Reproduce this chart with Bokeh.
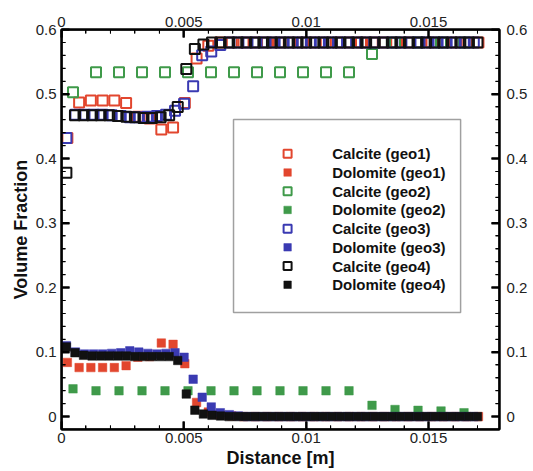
from bokeh.plotting import figure
from bokeh.models import LinearAxis, Range1d, FixedTicker
from bokeh.embed import file_html
from bokeh.resources import INLINE

# ---------------- data ----------------
# geo1 cells
x_geo1 = [0.00024, 0.00072, 0.0012, 0.00168, 0.00216, 0.00264, 0.00312, 0.0036,
          0.00408, 0.00456, 0.00504, 0.00552, 0.006, 0.00648, 0.00696, 0.00744,
          0.00792, 0.0084, 0.00888, 0.00936, 0.00984, 0.01032, 0.0108, 0.01128,
          0.01176, 0.01224, 0.01272, 0.0132, 0.01368, 0.01416, 0.01464, 0.01512,
          0.0156, 0.01608, 0.01656, 0.01704]
calcite_geo1 = [0.432, 0.487, 0.49, 0.49, 0.49, 0.486, 0.465, 0.462, 0.445, 0.448,
                0.486, 0.555, 0.575, 0.58, 0.58, 0.58, 0.58, 0.58, 0.58, 0.58,
                0.58, 0.58, 0.58, 0.58, 0.58, 0.58, 0.58, 0.58, 0.58, 0.58,
                0.58, 0.58, 0.58, 0.58, 0.58, 0.58]
dolomite_geo1 = [0.084, 0.076, 0.076, 0.076, 0.076, 0.079, 0.092, 0.093, 0.114, 0.112,
                 0.082, 0.022, 0.007, 0.003, 0.001, 0.0, 0.0, 0.0, 0.0, 0.0,
                 0.0, 0.0, 0.0, 0.0, 0.0, 0.0, 0.0, 0.0, 0.0, 0.0,
                 0.0, 0.0, 0.0, 0.0, 0.0, 0.0]

# geo2 cells
x_geo2 = [0.00047, 0.00141, 0.00235, 0.00329, 0.00423, 0.00517, 0.00611, 0.00705,
          0.00799, 0.00893, 0.00987, 0.01081, 0.01175, 0.01269, 0.01363, 0.01457,
          0.01551, 0.01645]
calcite_geo2 = [0.503, 0.534, 0.534, 0.534, 0.534, 0.534, 0.534, 0.534, 0.534,
                0.534, 0.534, 0.534, 0.534, 0.562, 0.58, 0.58, 0.58, 0.58]
dolomite_geo2 = [0.043, 0.04, 0.04, 0.04, 0.04, 0.04, 0.04, 0.04, 0.04,
                 0.04, 0.04, 0.04, 0.04, 0.0174, 0.011, 0.0097, 0.0087, 0.006]

# geo3 cells
x_geo3 = [0.0002, 0.00057, 0.00094, 0.00131, 0.00168, 0.00205, 0.00242, 0.00279,
          0.00316, 0.00353, 0.0039, 0.00427, 0.00464, 0.00501, 0.00538, 0.00575,
          0.00612, 0.00649, 0.00686, 0.00723, 0.0076, 0.00797, 0.00834, 0.00871,
          0.00908, 0.00945, 0.00982, 0.01019, 0.01056, 0.01093, 0.0113, 0.01167,
          0.01204, 0.01241, 0.01278, 0.01315, 0.01352, 0.01389, 0.01426, 0.01463,
          0.015, 0.01537, 0.01574, 0.01611, 0.01648, 0.01685]
calcite_geo3 = [0.432, 0.468, 0.468, 0.468, 0.468, 0.467, 0.466, 0.464, 0.464, 0.465,
                0.466, 0.468, 0.474, 0.485, 0.512, 0.56, 0.566, 0.576, 0.58, 0.58,
                0.58, 0.58, 0.58, 0.58, 0.58, 0.58, 0.58, 0.58, 0.58, 0.58,
                0.58, 0.58, 0.58, 0.58, 0.58, 0.58, 0.58, 0.58, 0.58, 0.58,
                0.58, 0.58, 0.58, 0.58, 0.58, 0.58]
dolomite_geo3 = [0.11, 0.1, 0.097, 0.097, 0.097, 0.098, 0.099, 0.102, 0.1, 0.098,
                 0.097, 0.098, 0.099, 0.092, 0.058, 0.03, 0.015, 0.006, 0.003, 0.001,
                 0.0, 0.0, 0.0, 0.0, 0.0, 0.0, 0.0, 0.0, 0.0, 0.0,
                 0.0, 0.0, 0.0, 0.0, 0.0, 0.0, 0.0, 0.0, 0.0, 0.0,
                 0.0, 0.0, 0.0, 0.0, 0.0, 0.0]

# geo4 cells
x_geo4 = [0.0002, 0.00055, 0.0009, 0.00125, 0.0016, 0.00195, 0.0023, 0.00265,
          0.003, 0.00335, 0.0037, 0.00405, 0.0044, 0.00475, 0.0051, 0.00545,
          0.0058, 0.00615, 0.0065, 0.00685, 0.0072, 0.00755, 0.0079, 0.00825,
          0.0086, 0.00895, 0.0093, 0.00965, 0.01, 0.01035, 0.0107, 0.01105,
          0.0114, 0.01175, 0.0121, 0.01245, 0.0128, 0.01315, 0.0135, 0.01385,
          0.0142, 0.01455, 0.0149, 0.01525, 0.0156, 0.01595, 0.0163, 0.01665, 0.017]
calcite_geo4 = [0.378, 0.467, 0.467, 0.467, 0.467, 0.467, 0.466, 0.465, 0.464, 0.463,
                0.463, 0.464, 0.467, 0.48, 0.539, 0.57, 0.577, 0.58, 0.58, 0.58,
                0.58, 0.58, 0.58, 0.58, 0.58, 0.58, 0.58, 0.58, 0.58, 0.58,
                0.58, 0.58, 0.58, 0.58, 0.58, 0.58, 0.58, 0.58, 0.58, 0.58,
                0.58, 0.58, 0.58, 0.58, 0.58, 0.58, 0.58, 0.58, 0.58]
dolomite_geo4 = [0.108, 0.099, 0.095, 0.094, 0.094, 0.094, 0.094, 0.094, 0.093, 0.093,
                 0.093, 0.093, 0.093, 0.087, 0.035, 0.01, 0.004, 0.002, 0.001, 0.0,
                 0.0, 0.0, 0.0, 0.0, 0.0, 0.0, 0.0, 0.0, 0.0, 0.0,
                 0.0, 0.0, 0.0, 0.0, 0.0, 0.0, 0.0, 0.0, 0.0, 0.0,
                 0.0, 0.0, 0.0, 0.0, 0.0, 0.0, 0.0, 0.0, 0.0]

# tick positions / labels
x_major_ticks = [0.0, 0.005, 0.01, 0.015]
x_minor_ticks = [0.001, 0.002, 0.003, 0.004, 0.006, 0.007, 0.008, 0.009,
                 0.011, 0.012, 0.013, 0.014, 0.016, 0.017]
y_major_ticks = [0.0, 0.1, 0.2, 0.3, 0.4, 0.5, 0.6]
y_minor_ticks = [0.02, 0.04, 0.06, 0.08, 0.12, 0.14, 0.16, 0.18, 0.22, 0.24,
                 0.26, 0.28, 0.32, 0.34, 0.36, 0.38, 0.42, 0.44, 0.46, 0.48,
                 0.52, 0.54, 0.56, 0.58]
x_tick_labels = ["0", "0.005", "0.01", "0.015"]
y_tick_labels = ["0", "0.1", "0.2", "0.3", "0.4", "0.5", "0.6"]

series_names = ["Calcite (geo1)", "Dolomite (geo1)", "Calcite (geo2)", "Dolomite (geo2)",
                "Calcite (geo3)", "Dolomite (geo3)", "Calcite (geo4)", "Dolomite (geo4)"]
series_x = [x_geo1, x_geo1, x_geo2, x_geo2, x_geo3, x_geo3, x_geo4, x_geo4]
series_y = [calcite_geo1, dolomite_geo1, calcite_geo2, dolomite_geo2,
            calcite_geo3, dolomite_geo3, calcite_geo4, dolomite_geo4]
series_color = ["#e2462e", "#e2462e", "#3f9a4a", "#3f9a4a",
                "#3a3ab2", "#3a3ab2", "#111111", "#111111"]
series_filled = [False, True, False, True, False, True, False, True]

# ---------------- layout constants ----------------
X_MIN, X_MAX = 0.0, 0.0179
Y_MIN, Y_MAX = -0.02, 0.6001
FRAME_W, FRAME_H = 438, 400          # plot-area size in px
PX_X = (X_MAX - X_MIN) / FRAME_W     # data units per pixel
PX_Y = (Y_MAX - Y_MIN) / FRAME_H

# legend box (data units)
LEG_LEFT, LEG_RIGHT = 0.00703, 0.01631
LEG_BOTTOM, LEG_TOP = 0.1614, 0.4606
LEG_MARK_X, LEG_TEXT_X = 0.00924, 0.01106
LEG_ROW0, LEG_ROW_STEP = 0.4074, 0.0290

p = figure(width=533, height=471, output_backend="svg", toolbar_location=None,
           x_range=Range1d(X_MIN, X_MAX), y_range=Range1d(Y_MIN, Y_MAX),
           min_border_left=61, min_border_right=34,
           min_border_top=29, min_border_bottom=42)
p.outline_line_color = "black"
p.outline_line_width = 2
p.xgrid.grid_line_color = None
p.ygrid.grid_line_color = None

ax_below = p.below[0]
ax_left = p.left[0]
ax_above = LinearAxis()
ax_right = LinearAxis()
p.add_layout(ax_above, "above")
p.add_layout(ax_right, "right")

for ax in (ax_below, ax_above):
    ax.ticker = FixedTicker(ticks=x_major_ticks, minor_ticks=x_minor_ticks)
    ax.major_label_overrides = dict(zip(x_major_ticks, x_tick_labels))
for ax in (ax_left, ax_right):
    ax.ticker = FixedTicker(ticks=y_major_ticks, minor_ticks=y_minor_ticks)
    ax.major_label_overrides = dict(zip(y_major_ticks, y_tick_labels))

for ax in (ax_below, ax_above, ax_left, ax_right):
    ax.axis_line_width = 2
    ax.axis_line_color = "black"
    ax.major_tick_in = 8
    ax.major_tick_out = 0
    ax.major_tick_line_width = 2
    ax.minor_tick_in = 4
    ax.minor_tick_out = 0
    ax.minor_tick_line_width = 1
    ax.major_label_text_font_size = "15px"
    ax.major_label_text_color = "#222222"
    ax.major_label_standoff = 3
    ax.axis_label_text_font_style = "bold"
    ax.axis_label_text_font_size = "18px"
    ax.axis_label_text_color = "#111111"
    ax.axis_label_standoff = 2

ax_below.axis_label = "Distance [m]"
ax_left.axis_label = "Volume Fraction"
ax_left.major_label_standoff = 5
ax_right.major_label_standoff = 7

# ---------------- data markers ----------------
for xs, ys, color, filled in zip(series_x, series_y, series_color, series_filled):
    if filled:
        p.scatter(xs, ys, marker="square", size=8.5, fill_color=color,
                  line_color=color, line_width=0.5)
    else:
        p.scatter(xs, ys, marker="square", size=10, fill_color=None,
                  line_color=color, line_width=2)

# ---------------- frame edges and inward ticks as filled shapes ----------------
p.quad(left=[X_MIN, X_MAX - PX_X, X_MIN, X_MIN],
       right=[X_MIN + PX_X, X_MAX, X_MAX, X_MAX],
       bottom=[Y_MIN, Y_MIN, Y_MIN, Y_MAX - PX_Y],
       top=[Y_MAX, Y_MAX, Y_MIN + PX_Y, Y_MAX],
       fill_color="black", line_color=None)
for ypos in (Y_MIN, Y_MAX):
    p.rect(x=x_major_ticks, y=[ypos] * len(x_major_ticks), width=2, height=16,
           width_units="screen", height_units="screen", fill_color="black", line_color=None)
    p.rect(x=x_minor_ticks, y=[ypos] * len(x_minor_ticks), width=1, height=8,
           width_units="screen", height_units="screen", fill_color="black", line_color=None)
for xpos in (X_MIN, X_MAX):
    p.rect(x=[xpos] * len(y_major_ticks), y=y_major_ticks, width=16, height=2,
           width_units="screen", height_units="screen", fill_color="black", line_color=None)
    p.rect(x=[xpos] * len(y_minor_ticks), y=y_minor_ticks, width=8, height=1,
           width_units="screen", height_units="screen", fill_color="black", line_color=None)

# ---------------- legend (drawn with glyphs) ----------------
p.quad(left=[LEG_LEFT], right=[LEG_RIGHT], bottom=[LEG_BOTTOM], top=[LEG_TOP],
       fill_color="white", line_color="#a0a0a0", line_width=1.5)
for k, (name, color, filled) in enumerate(zip(series_names, series_color, series_filled)):
    yk = LEG_ROW0 - k * LEG_ROW_STEP
    if filled:
        p.scatter([LEG_MARK_X], [yk], marker="square", size=7.5, fill_color=color,
                  line_color=color, line_width=0.5)
    else:
        p.scatter([LEG_MARK_X], [yk], marker="square", size=8, fill_color=None,
                  line_color=color, line_width=2)
    p.text(x=[LEG_TEXT_X], y=[yk], text=[name], text_font_size="15px",
           text_font_style="bold", text_color="#111111",
           text_baseline="middle", text_align="left")

open("out.html", "w").write(file_html(p, INLINE))
